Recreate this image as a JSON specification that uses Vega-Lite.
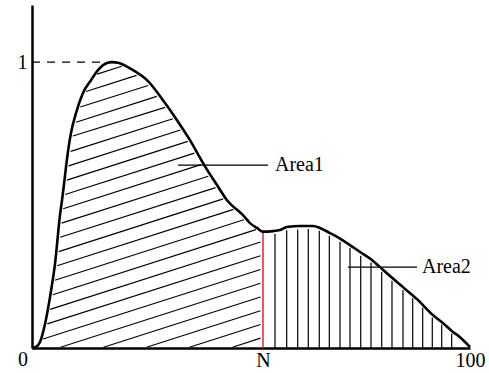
{
  "$schema": "https://vega.github.io/schema/vega-lite/v6.json",
  "width": 438,
  "height": 343,
  "autosize": "none",
  "padding": {"left": 32, "top": 5, "right": 19, "bottom": 25},
  "background": "white",
  "config": {
    "view": {"stroke": null},
    "axis": {
      "grid": false,
      "ticks": false,
      "domainColor": "black",
      "domainWidth": 2.5,
      "labelColor": "black",
      "labelFont": "Liberation Serif",
      "labelFontSize": 20,
      "labelFlush": false,
      "labelOverlap": false,
      "labelBound": false
    }
  },
  "datasets": {
    "curve": [
      {"x": 0, "y": 0}, {"x": 0.91, "y": 0.0035}, {"x": 1.83, "y": 0.021}, {"x": 2.97, "y": 0.084},
      {"x": 4.11, "y": 0.178}, {"x": 5.25, "y": 0.294}, {"x": 6.39, "y": 0.465}, {"x": 6.85, "y": 0.517},
      {"x": 7.42, "y": 0.587}, {"x": 7.76, "y": 0.633}, {"x": 8.9, "y": 0.752}, {"x": 10.05, "y": 0.822},
      {"x": 11.64, "y": 0.892}, {"x": 13.47, "y": 0.937}, {"x": 15.07, "y": 0.972}, {"x": 17.12, "y": 0.997},
      {"x": 18.26, "y": 1.0}, {"x": 19.63, "y": 0.998}, {"x": 23.06, "y": 0.972}, {"x": 26.26, "y": 0.937},
      {"x": 29.91, "y": 0.867}, {"x": 33.11, "y": 0.797}, {"x": 36.07, "y": 0.727}, {"x": 39.04, "y": 0.647},
      {"x": 42.24, "y": 0.57}, {"x": 44.52, "y": 0.517}, {"x": 48.17, "y": 0.465}, {"x": 49.77, "y": 0.437},
      {"x": 51.37, "y": 0.42}, {"x": 52.74, "y": 0.407}, {"x": 55.02, "y": 0.409}, {"x": 56.62, "y": 0.413},
      {"x": 58.22, "y": 0.423}, {"x": 61.19, "y": 0.427}, {"x": 64.16, "y": 0.427}, {"x": 65.75, "y": 0.42},
      {"x": 68.04, "y": 0.402}, {"x": 70.32, "y": 0.383}, {"x": 72.6, "y": 0.36}, {"x": 74.89, "y": 0.336},
      {"x": 77.17, "y": 0.313}, {"x": 79.45, "y": 0.283}, {"x": 81.74, "y": 0.252}, {"x": 84.7, "y": 0.213},
      {"x": 87.9, "y": 0.171}, {"x": 91.55, "y": 0.115}, {"x": 93.84, "y": 0.087}, {"x": 95.89, "y": 0.059},
      {"x": 97.72, "y": 0.038}, {"x": 100, "y": 0.0035}
    ],
    "diag": [
      {"x": 45.78, "y": 0.0028, "x2": 52.17, "y2": 0.0343},
      {"x": 35.96, "y": 0.0028, "x2": 52.17, "y2": 0.0822},
      {"x": 26.14, "y": 0.0028, "x2": 52.17, "y2": 0.1304},
      {"x": 16.32, "y": 0.0028, "x2": 52.17, "y2": 0.1783},
      {"x": 6.51, "y": 0.0028, "x2": 52.17, "y2": 0.2266},
      {"x": 2.53, "y": 0.0315, "x2": 52.17, "y2": 0.2748},
      {"x": 3.49, "y": 0.0843, "x2": 52.17, "y2": 0.3227},
      {"x": 4.13, "y": 0.1353, "x2": 52.17, "y2": 0.371},
      {"x": 4.73, "y": 0.1864, "x2": 51.12, "y2": 0.414},
      {"x": 5.23, "y": 0.2371, "x2": 48.38, "y2": 0.4486},
      {"x": 5.73, "y": 0.2878, "x2": 46.0, "y2": 0.485},
      {"x": 6.1, "y": 0.3374, "x2": 43.65, "y2": 0.5217},
      {"x": 6.43, "y": 0.3874, "x2": 41.92, "y2": 0.5612},
      {"x": 6.76, "y": 0.4371, "x2": 40.25, "y2": 0.601},
      {"x": 7.12, "y": 0.4871, "x2": 38.58, "y2": 0.6413},
      {"x": 7.56, "y": 0.5371, "x2": 37.08, "y2": 0.6818},
      {"x": 7.97, "y": 0.5874, "x2": 35.57, "y2": 0.7227},
      {"x": 8.36, "y": 0.6374, "x2": 33.88, "y2": 0.7626},
      {"x": 8.84, "y": 0.6878, "x2": 32.17, "y2": 0.8021},
      {"x": 9.32, "y": 0.7416, "x2": 30.39, "y2": 0.8416},
      {"x": 10.05, "y": 0.7899, "x2": 28.49, "y2": 0.8804},
      {"x": 11.03, "y": 0.843, "x2": 26.51, "y2": 0.9185},
      {"x": 12.33, "y": 0.8972, "x2": 23.88, "y2": 0.9538},
      {"x": 14.86, "y": 0.958, "x2": 20.5, "y2": 0.9857}
    ],
    "vert": [
      {"x": 55.48, "bottom": 0, "top": 0.4}, {"x": 58.15, "bottom": 0, "top": 0.412}, {"x": 60.66, "bottom": 0, "top": 0.415},
      {"x": 63.08, "bottom": 0, "top": 0.416}, {"x": 65.59, "bottom": 0, "top": 0.41}, {"x": 67.88, "bottom": 0, "top": 0.393},
      {"x": 70.32, "bottom": 0, "top": 0.372}, {"x": 72.6, "bottom": 0, "top": 0.35}, {"x": 75.05, "bottom": 0, "top": 0.323},
      {"x": 77.4, "bottom": 0, "top": 0.299}, {"x": 79.84, "bottom": 0, "top": 0.267}, {"x": 82.19, "bottom": 0, "top": 0.235},
      {"x": 84.7, "bottom": 0, "top": 0.203}, {"x": 86.92, "bottom": 0, "top": 0.174}, {"x": 89.2, "bottom": 0, "top": 0.141},
      {"x": 91.39, "bottom": 0, "top": 0.107}, {"x": 93.54, "bottom": 0, "top": 0.082}, {"x": 95.82, "bottom": 0, "top": 0.05}
    ],
    "leaders": [
      {"x": 33.33, "x2": 53.88, "y": 0.64},
      {"x": 72.15, "x2": 87.9, "y": 0.283}
    ],
    "labels": [
      {"x": 55.48, "y": 0.619, "text": "Area1"},
      {"x": 89.04, "y": 0.262, "text": "Area2"}
    ],
    "origin": [
      {"x": 0, "y": 0, "text": "0"}
    ]
  },
  "layer": [
    {
      "data": {"name": "diag"},
      "mark": {"type": "rule", "color": "black", "strokeWidth": 1.2},
      "encoding": {
        "x": {"field": "x", "type": "quantitative", "title": null, "scale": {"domain": [0, 100], "nice": false, "zero": false},
          "axis": {"values": [52.74, 100], "labelExpr": "datum.value > 50 && datum.value < 60 ? 'N' : datum.label", "labelPadding": 2}},
        "y": {"field": "y", "type": "quantitative", "title": null, "scale": {"domain": [0, 1.2], "nice": false, "zero": false},
          "axis": {"values": [1], "format": "d", "labelPadding": 5}},
        "x2": {"field": "x2"},
        "y2": {"field": "y2"}
      }
    },
    {
      "data": {"name": "vert"},
      "mark": {"type": "rule", "color": "black", "strokeWidth": 1.2},
      "encoding": {
        "x": {"field": "x", "type": "quantitative", "title": null},
        "y": {"field": "bottom", "type": "quantitative", "title": null},
        "y2": {"field": "top"}
      }
    },
    {
      "data": {"values": [{"x": 52.74, "y": 0, "y2": 0.407}]},
      "mark": {"type": "rule", "color": "#e8202a", "strokeWidth": 1.5},
      "encoding": {
        "x": {"field": "x", "type": "quantitative", "title": null},
        "y": {"field": "y", "type": "quantitative", "title": null},
        "y2": {"field": "y2"}
      }
    },
    {
      "data": {"values": [{"x": 0, "x2": 17.12, "y": 1}]},
      "mark": {"type": "rule", "color": "black", "strokeWidth": 1.1, "strokeDash": [8, 7]},
      "encoding": {
        "x": {"field": "x", "type": "quantitative", "title": null},
        "x2": {"field": "x2"},
        "y": {"field": "y", "type": "quantitative", "title": null}
      }
    },
    {
      "data": {"name": "curve"},
      "mark": {"type": "line", "color": "black", "strokeWidth": 2.6, "interpolate": "monotone"},
      "encoding": {
        "x": {"field": "x", "type": "quantitative", "title": null},
        "y": {"field": "y", "type": "quantitative", "title": null}
      }
    },
    {
      "data": {"name": "leaders"},
      "mark": {"type": "rule", "color": "black", "strokeWidth": 1.2},
      "encoding": {
        "x": {"field": "x", "type": "quantitative", "title": null},
        "x2": {"field": "x2"},
        "y": {"field": "y", "type": "quantitative", "title": null}
      }
    },
    {
      "data": {"name": "labels"},
      "mark": {"type": "text", "align": "left", "baseline": "alphabetic", "font": "Liberation Serif", "fontSize": 20, "color": "black"},
      "encoding": {
        "x": {"field": "x", "type": "quantitative", "title": null},
        "y": {"field": "y", "type": "quantitative", "title": null},
        "text": {"field": "text"}
      }
    },
    {
      "data": {"name": "origin"},
      "mark": {"type": "text", "align": "center", "baseline": "middle", "dx": -9, "dy": 12, "font": "Liberation Serif", "fontSize": 20, "color": "black"},
      "encoding": {
        "x": {"field": "x", "type": "quantitative", "title": null},
        "y": {"field": "y", "type": "quantitative", "title": null},
        "text": {"field": "text"}
      }
    }
  ]
}
